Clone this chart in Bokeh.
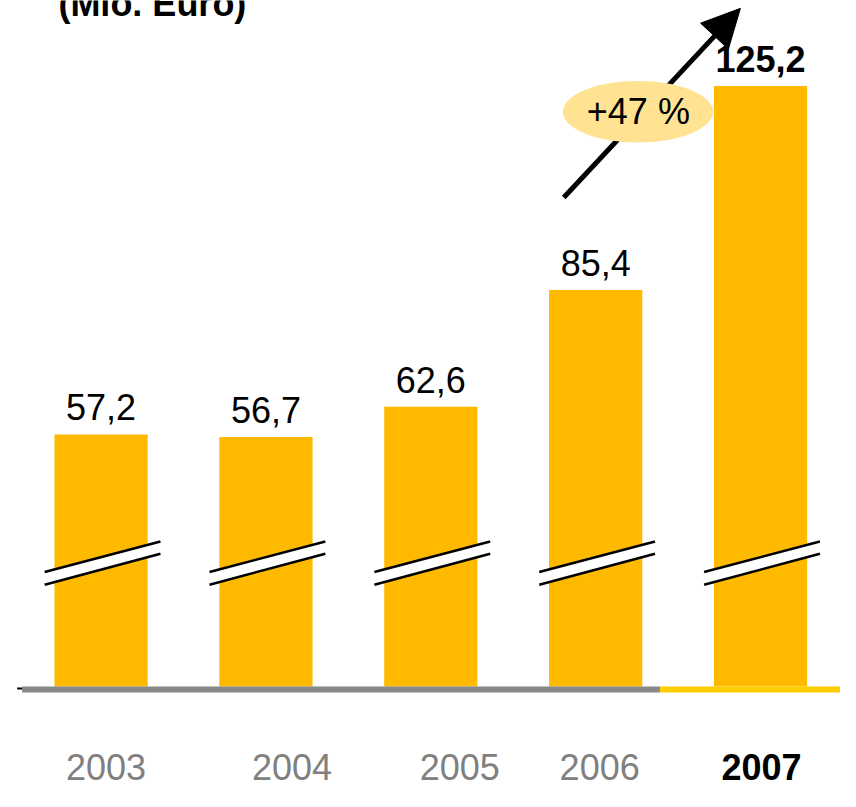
from bokeh.plotting import figure
from bokeh.models import ColumnDataSource, Range1d, Arrow, NormalHead
from bokeh.core.properties import value
from bokeh.embed import file_html
from bokeh.resources import INLINE

# ---- data ----
years = ["2003", "2004", "2005", "2006", "2007"]
values = [57.2, 56.7, 62.6, 85.4, 125.2]
value_labels = ["57,2", "56,7", "62,6", "85,4", "125,2"]
growth_label = "+47 %"
title_text = "(Mio. Euro)"

# ---- styles ----
FONT = value("Liberation Sans")
FS = "36px"
BAR_COLOR = "#FFBA00"
year_colors = ["#808080", "#808080", "#808080", "#808080", "#000000"]
label_styles = ["normal", "normal", "normal", "normal", "bold"]
year_label_dx = [5, 26, 29, 4, 1]  # pixel nudges of year labels
BASE_FIX = -13  # compensation for rendered alphabetic baseline

W, H = 840, 791
REF_W, REF_H = 856, 807
SX = 168.0          # reference px per category
X0 = -102.5 / SX    # data x at left edge
SY = 5.226          # reference px per value unit
Y_TOP = 57.2 + 442.7 / SY


def px_x(ref_x):
    return X0 + ref_x / SX


def px_y(ref_y):
    return Y_TOP - ref_y / SY


idx = list(range(len(years)))
floor = px_y(700)

p = figure(width=W, height=H, output_backend="svg", toolbar_location=None,
           x_range=Range1d(X0, px_x(REF_W)), y_range=Range1d(px_y(REF_H), Y_TOP),
           x_axis_type=None, y_axis_type=None, min_border=0)
p.grid.visible = False
p.outline_line_color = None
p.background_fill_color = "white"

src = ColumnDataSource(dict(x=idx, top=values, lab=value_labels, years=years,
                            ycol=year_colors, style=label_styles,
                            dx=year_label_dx, ylab=[px_y(795)] * len(years)))

# bars
p.vbar(x="x", top="top", bottom=floor, width=95 / SX, source=src,
       fill_color=BAR_COLOR, line_color=None)

# axis-break marks
gap_xs, gap_ys, lines_xs, lines_ys = [], [], [], []
for i in idx:
    xl, xr = i - 57.5 / SX, i + 60.5 / SX
    yu_l, yu_r = px_y(583), px_y(552)
    yl_l, yl_r = px_y(596), px_y(564.5)
    gap_xs.append([xl, xr, xr, xl])
    gap_ys.append([yu_l, yu_r, yl_r, yl_l])
    lines_xs += [[xl, xr], [xl, xr]]
    lines_ys += [[yu_l, yu_r], [yl_l, yl_r]]
p.patches(gap_xs, gap_ys, fill_color="white", line_color=None)
p.multi_line(lines_xs, lines_ys, line_color="black", line_width=2.5)

# baseline
p.segment(x0=[px_x(22)], y0=[px_y(703)], x1=[px_x(672)], y1=[px_y(703)],
          line_color="#888888", line_width=6)
p.segment(x0=[px_x(672)], y0=[px_y(703)], x1=[px_x(856)], y1=[px_y(703)],
          line_color="#FFCC00", line_width=6)
p.segment(x0=[px_x(17)], y0=[px_y(702)], x1=[px_x(22)], y1=[px_y(702)],
          line_color="black", line_width=2)

# value labels
p.text(x="x", y="top", text="lab", source=src, y_offset=-14 + BASE_FIX,
       text_align="center", text_baseline="alphabetic",
       text_font=FONT, text_font_size=FS, text_font_style="style",
       text_color="black")

# year labels
p.text(x="x", y="ylab", text="years", source=src, x_offset="dx",
       y_offset=BASE_FIX,
       text_align="center", text_baseline="alphabetic",
       text_font=FONT, text_font_size=FS, text_font_style="style",
       text_color="ycol")

# growth arrow
arrow = Arrow(end=NormalHead(size=38, fill_color="black", line_color="black"),
              x_start=px_x(574), y_start=px_y(201),
              x_end=px_x(754), y_end=px_y(8),
              line_color="black", line_width=5, level="underlay")
p.add_layout(arrow)

p.ellipse(x=[px_x(649.5)], y=[px_y(113.5)], width=153 / SX, height=63 / SY,
          fill_color="#FFE393", line_color=None)
p.text(x=[px_x(650)], y=[px_y(127)], text=[growth_label], y_offset=BASE_FIX,
       text_align="center", text_baseline="alphabetic",
       text_font=FONT, text_font_size=FS, text_color="black")

# title (cut at top, as in the reference)
p.text(x=[px_x(59)], y=[px_y(16)], text=[title_text], y_offset=BASE_FIX,
       text_align="left", text_baseline="alphabetic",
       text_font=FONT, text_font_size=FS, text_font_style="bold",
       text_color="black")

open("out.html", "w").write(file_html(p, INLINE))
